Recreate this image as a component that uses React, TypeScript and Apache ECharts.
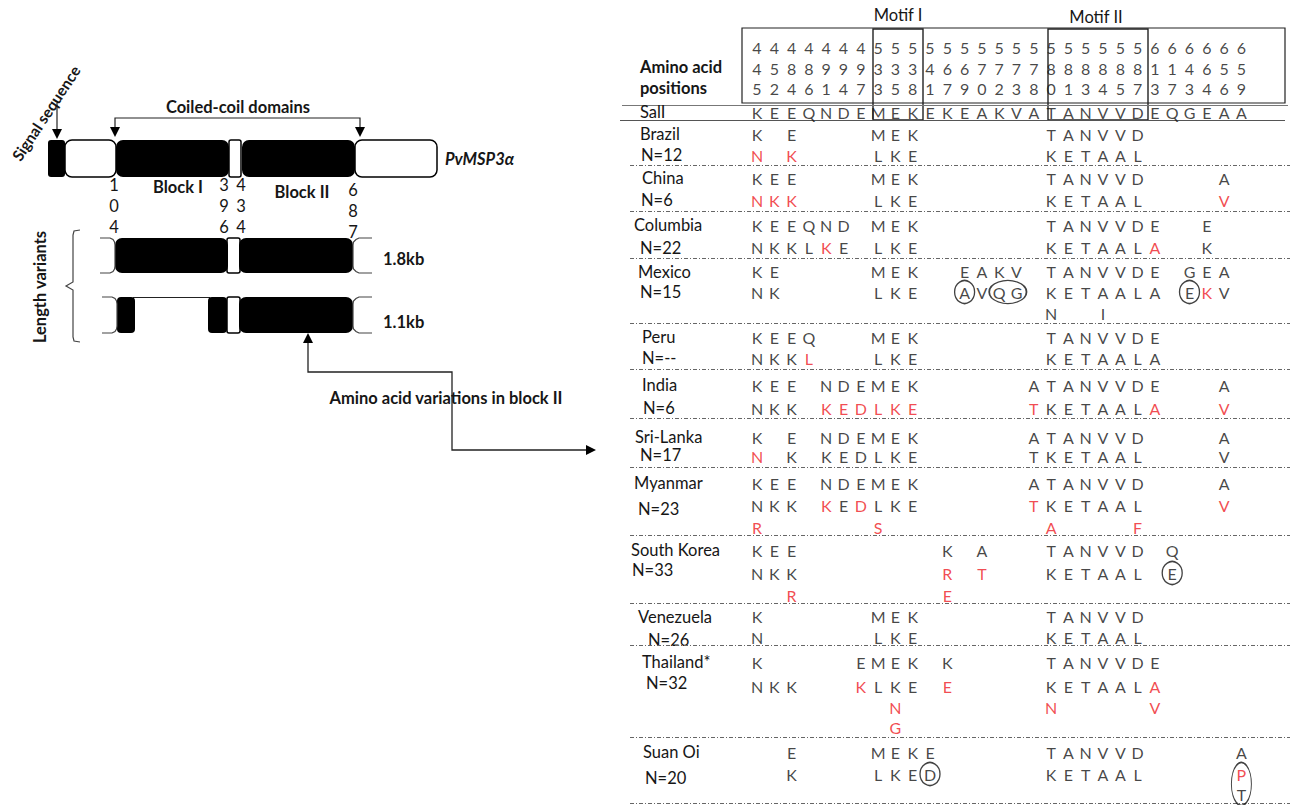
import React, { useEffect, useRef } from "react";
import * as echarts from "echarts";

// ---------- DATA ----------
const aminoAcidPositions = ["445","452","484","486","491","494","497","533","535","538","541","567","569","570","572","573","578","580","581","583","584","585","587","613","617","643","664","656","659"];
const referenceName = "SalI";
const referenceSeq = "KEEQNDEMEKEKEAKVATANVVDEQGEAA";
const countries = ["Brazil","China","Columbia","Mexico","Peru","India","Sri-Lanka","Myanmar","South Korea","Venezuela","Thailand*","Suan Oi"];
const sampleSizes = ["N=12","N=6","N=22","N=15","N=--","N=6","N=17","N=23","N=33","N=26","N=32","N=20"];
// one string per line, one character per position; "." = blank, lower case = red (new variant)
const brazilVariants = ["K.E....MEK.......TANVVD......","n.k....LKE.......KETAAL......"];
const chinaVariants = ["KEE....MEK.......TANVVD....A.","nkk....LKE.......KETAAL....v."];
const columbiaVariants = ["KEEQND.MEK.......TANVVDE..E..","NKKLkE.LKE.......KETAALa..K.."];
const mexicoVariants = ["KE.....MEK..EAKV.TANVVDE.GEA.","NK.....LKE..AVQG.KETAALA.EkV.",".................N..I........"];
const peruVariants = ["KEEQ...MEK.......TANVVDE.....","NKKl...LKE.......KETAALA....."];
const indiaVariants = ["KEE.NDEMEK......ATANVVDE...A.","NKK.kedlke......tKETAALa...v."];
const sriLankaVariants = ["K.E.NDEMEK......ATANVVD....A.","n.K.KEDLKE......TKETAAL....V."];
const myanmarVariants = ["KEE.NDEMEK......ATANVVD....A.","NKK.kEdLKE......tKETAAL....v.","r......s.........a....f......"];
const southKoreaVariants = ["KEE........K.A...TANVVD.Q....","NKK........r.t...KETAAL.E....","..r........e................."];
const venezuelaVariants = ["K......MEK.......TANVVD......","N......LKE.......KETAAL......"];
const thailandVariants = ["K.....EMEK.K.....TANVVDE.....","NKK...kLKE.e.....KETAALa.....","........n........n.....v.....","........g...................."];
const suanOiVariants = ["..E....MEKE......TANVVD.....A","..K....LKED......KETAAL.....p","............................T"];
const variantLines = [brazilVariants, chinaVariants, columbiaVariants, mexicoVariants, peruVariants, indiaVariants, sriLankaVariants, myanmarVariants, southKoreaVariants, venezuelaVariants, thailandVariants, suanOiVariants];
// circled residues: [row, fromLine, toLine, fromCol, toCol]
const circledResidues = [[3,1,1,12,12],[3,1,1,14,15],[3,1,1,25,25],[8,1,1,24,24],[11,1,1,10,10],[11,1,2,28,28]];

// ---------- LAYOUT ----------
const lineYs = [[134,155],[178,200],[225,247],[271,292,313],[337,358],[385,408],[437,456],[483,505,527],[550,573,595],[616,637],[662,686,707,727],[752,774,794]];
const labelLayout = [[640,134,641,155],[642,178,641,200],[634,225,640,248],[638,272,640,292],[642,337,642,358],[642,385,643,408],[635,437,640,455],[634,483,638,509],[631,550,632,570],[638,617,648,640],[642,662,646,683],[643,752,645,778]];
const separatorYs = [165,211,258,323,369,418,467,535,603,645,737,803];

const FONT = "Lato, 'Open Sans', sans-serif";
const RED = "#ee1c25";
const INK = "#161616";

function txt(text, x, y, opts = {}) {
  return {
    type: "text", silent: true, x, y, rotation: opts.rotation || 0,
    style: {
      text, x: 0, y: 0,
      font: `${opts.bold ? "bold " : ""}${opts.italic ? "italic " : ""}${opts.size || 16.5}px ${FONT}`,
      fill: opts.color || INK, align: opts.align || "left", verticalAlign: "middle",
    },
  };
}
function rect(x, y, w, h, black, r = 7) {
  return { type: "rect", silent: true, shape: { x, y, width: w, height: h, r },
    style: black ? { fill: "#000" } : { fill: "#fff", stroke: "#000", lineWidth: 1.5 } };
}
function poly(points, color = "#222", w = 1.2) {
  return { type: "polyline", silent: true, shape: { points }, style: { stroke: color, lineWidth: w, fill: null } };
}
function tri(points) {
  return { type: "polygon", silent: true, shape: { points }, style: { fill: "#000" } };
}
function leftBracket(ex, ty, by) {
  return poly([[ex-15,ty],[ex-5,ty],[ex-2,ty+1.5],[ex-0.5,ty+4],[ex,ty+7],[ex,by-7],[ex-0.5,by-4],[ex-2,by-1.5],[ex-5,by],[ex-15,by]], "#444", 1.2);
}
function rightBracket(ex, ty, by) {
  return poly([[ex+19,ty],[ex+6,ty],[ex+3,ty+1.5],[ex+0.5,ty+4],[ex,ty+7],[ex,by-7],[ex+0.5,by-4],[ex+3,by-1.5],[ex+6,by],[ex+19,by]], "#444", 1.2);
}

export default function App() {
  const ref = useRef(null);
  useEffect(() => {
    const chart = echarts.init(ref.current, null, { renderer: "svg" });

    const headerData = aminoAcidPositions.map((p, i) => ({ name: p.split("").join("\n"), value: [i, 68] }));
    const refData = referenceSeq.split("").map((c, i) => ({ name: c, value: [i, 112] }));
    const letterData = [];
    variantLines.forEach((lines, r) => {
      lines.forEach((s, l) => {
        s.split("").forEach((ch, i) => {
          if (ch === ".") return;
          const red = ch !== ch.toUpperCase();
          letterData.push({ name: ch.toUpperCase(), value: [i, lineYs[r][l]], label: { color: red ? RED : INK } });
        });
      });
    });
    const step = 17.3;
    const circleData = circledResidues.map(([r, l1, l2, c1, c2]) => {
      const y1 = lineYs[r][l1], y2 = lineYs[r][l2];
      return { value: [(c1 + c2) / 2, (y1 + y2) / 2], symbolSize: [(c2 - c1) * step + 20, (y2 - y1) + 23] };
    });

    const g = [];
    // ---- left diagram ----
    g.push(rect(65,140,51,37,false), rect(229,140,12,37,false,2), rect(355,140,82,37,false));
    g.push(rect(48,140,17,37,true,3), rect(116,140,113,37,true), rect(242,140,113,37,true));
    g.push(txt("PvMSP3\u03b1", 445, 159, { bold: true, italic: true }));
    g.push(poly([[115,130],[115,118],[360,118],[360,130]], "#222", 1.2), tri([[110,127],[120,127],[115,137]]), tri([[355,127],[365,127],[360,137]]));
    g.push(txt("Coiled-coil domains", 238, 107, { bold: true, align: "center" }));
    g.push(poly([[57,103],[57,131]], "#222", 1.2), tri([[52,129],[62,129],[57,139]]));
    g.push(txt("Signal sequence", 46, 113, { bold: true, align: "center", size: 15.5, rotation: 56.5 * Math.PI / 180 }));
    [["1","0","4",114,185],["3","9","6",224,185],["4","3","4",241,185],["6","8","7",353,190]].forEach(([a,b,c,x,y]) => {
      g.push(txt(a, x, y, { align: "center" }), txt(b, x, y + 21, { align: "center" }), txt(c, x, y + 42, { align: "center" }));
    });
    g.push(txt("Block I", 178, 187, { bold: true, align: "center" }), txt("Block II", 302, 192, { bold: true, align: "center" }));
    // 1.8kb
    g.push(rect(227,238,13,35,false,2), rect(115,238,113,35,true), rect(239,238,114,35,true));
    g.push(leftBracket(115,238,273), rightBracket(353,238,273));
    g.push(txt("1.8kb", 383, 259, { bold: true }));
    // 1.1kb
    g.push(poly([[133,297.5],[210,297.5]], "#222", 1.2));
    g.push(rect(227,297,13,36,false,2), rect(117,297,18,36,true,4), rect(208,297,19,36,true,4), rect(239,297,114,36,true));
    g.push(leftBracket(117,297,333), rightBracket(353,297,333));
    g.push(txt("1.1kb", 383, 322, { bold: true }));
    g.push(txt("Length variants", 40, 287, { bold: true, align: "center", rotation: Math.PI / 2 }));
    g.push(poly([[80,230],[74,231],[73,235],[73,282],[66,286],[73,290],[73,337],[74,341],[80,342]], "#444", 1.2));
    g.push(poly([[308,340],[308,372],[452,372],[452,450],[588,450]], "#222", 1.3), tri([[303,343],[313,343],[308,333]]), tri([[586,445],[586,455],[596,450]]));
    g.push(txt("Amino acid variations in block II", 446, 398, { bold: true, align: "center" }));

    // ---- right table ----
    g.push({ type: "rect", silent: true, shape: { x: 742, y: 28, width: 543, height: 75 }, style: { fill: null, stroke: "#222", lineWidth: 1.2 } });
    g.push({ type: "rect", silent: true, shape: { x: 873, y: 29, width: 50, height: 91 }, style: { fill: null, stroke: "#222", lineWidth: 1.4 } });
    g.push({ type: "rect", silent: true, shape: { x: 1048, y: 29, width: 100, height: 91 }, style: { fill: null, stroke: "#222", lineWidth: 1.4 } });
    g.push(txt("Motif I", 898, 15, { align: "center" }), txt("Motif II", 1096, 17, { align: "center" }));
    g.push(txt("Amino acid", 640, 67, { bold: true }), txt("positions", 640, 88, { bold: true }));
    g.push(poly([[622,105.5],[1288,105.5]], "#777", 1), poly([[620,120.5],[1285,120.5]], "#555", 1.2));
    g.push(txt(referenceName, 640, 112));
    countries.forEach((c, i) => {
      const [x1, y1, x2, y2] = labelLayout[i];
      g.push(txt(c, x1, y1), txt(sampleSizes[i], x2, y2));
    });
    separatorYs.forEach((y) => {
      g.push({ type: "line", silent: true, shape: { x1: 630, y1: y + 0.5, x2: 1290, y2: y + 0.5 }, style: { stroke: "#666", lineWidth: 1, lineDash: [4, 2, 1, 2] } });
    });

    const labelBase = { show: true, position: "inside", formatter: "{b}", fontFamily: FONT, fontSize: 16, color: INK };
    chart.setOption({
      animation: false,
      grid: { left: 757 - step / 2, top: 0, width: step * 29, height: 805 },
      xAxis: { type: "value", min: -0.5, max: 28.5, show: false },
      yAxis: { type: "value", min: 0, max: 805, inverse: true, show: false },
      series: [
        { type: "scatter", silent: true, symbolSize: 0, itemStyle: { color: "rgba(0,0,0,0)" }, data: headerData, label: { ...labelBase, lineHeight: 20.5 } },
        { type: "scatter", silent: true, symbolSize: 0, itemStyle: { color: "rgba(0,0,0,0)" }, data: refData, label: labelBase },
        { type: "scatter", silent: true, symbolSize: 0, itemStyle: { color: "rgba(0,0,0,0)" }, data: letterData, label: labelBase },
        { type: "scatter", silent: true, symbol: "circle", itemStyle: { color: "rgba(0,0,0,0)", borderColor: "#111", borderWidth: 1.4 }, data: circleData, z: 3 },
      ],
      graphic: { elements: g },
    });
    return () => chart.dispose();
  }, []);
  return <div ref={ref} style={{ position: "fixed", left: 0, top: 0, width: 1290, height: 805, background: "#fff" }} />;
}
